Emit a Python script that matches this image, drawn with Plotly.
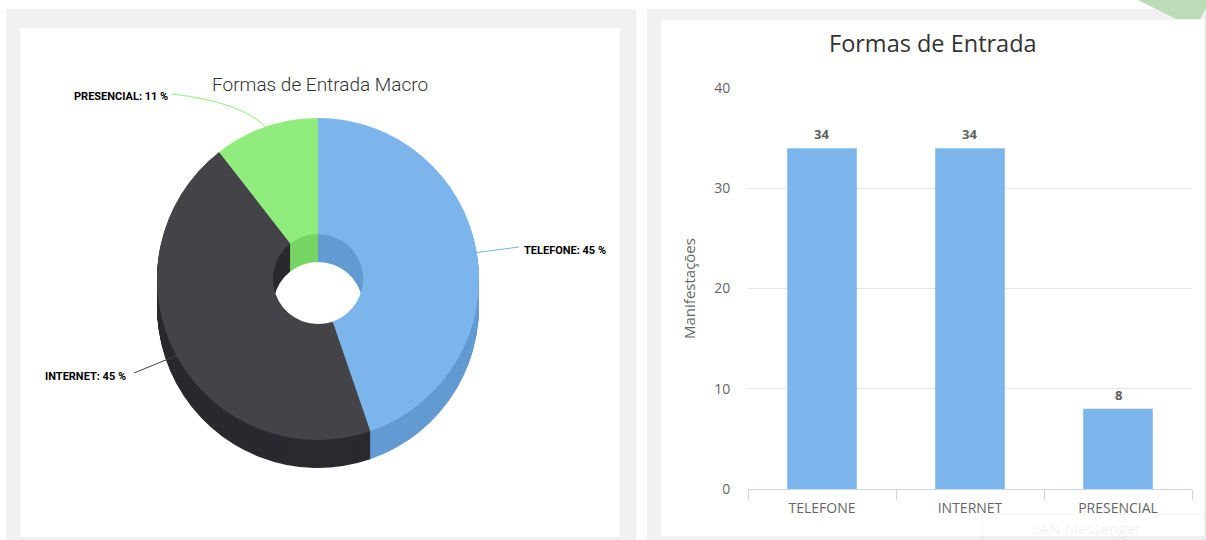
import math
import plotly.graph_objects as go

# ---------------- data ----------------
categories = ["TELEFONE", "INTERNET", "PRESENCIAL"]
values = [34, 34, 8]
pie_colors = ["#7cb5ec", "#434348", "#90ed7d"]
side_colors = ["#629bd2", "#2a2a2f", "#77d464"]
bar_color = "#7cb5ec"
pie_title = "Formas de Entrada Macro"
bar_title = "Formas de Entrada"
y_title = "Manifestações"
y_ticks = [0, 10, 20, 30, 40]

W, H = 1206, 540


def px(x):
    return x / W


def py(y):
    return 1 - y / H


fig = go.Figure()

# ---------------- 3D-like donut (stacked pies) ----------------
cx, cy, r, depth = 318, 279, 161, 28
hole = 0.28
for k in range(depth, -1, -1):
    cols = pie_colors if k == 0 else side_colors
    c = cy + k
    fig.add_trace(go.Pie(
        values=values, labels=categories, sort=False, direction="clockwise",
        rotation=0, hole=hole, textinfo="none",
        hoverinfo="skip" if k else "label+percent",
        marker=dict(colors=cols, line=dict(width=0)), showlegend=False,
        domain=dict(x=[px(cx - r), px(cx + r)], y=[py(c + r), py(c - r)]),
    ))

# labels with connectors, anchors computed from slice mid-angles
total = sum(values)
label_pos = [(522, 250, "left"), (128, 376, "right"), (170, 96, "right")]
label_end = [(519, 247), (134, 373), (172, 94)]
cum = 0
shapes = []
annotations = []
cond = "Roboto, Liberation Sans, sans-serif"
lab_font = dict(family=cond, size=11, color="#000000", weight="bold")
for i, (cat, v) in enumerate(zip(categories, values)):
    mid = (cum + v / 2) / total * 2 * math.pi
    cum += v
    ax_ = cx + r * math.sin(mid)
    ay_ = cy - r * math.cos(mid)
    ex, ey = label_end[i]
    if i == 2:
        path = (f"M {px(ex)},{py(ey)} Q {px(ax_ - 25)},{py(ey + 8)} "
                f"{px(ax_)},{py(ay_)}")
    else:
        path = f"M {px(ax_)},{py(ay_)} L {px(ex)},{py(ey)}"
    shapes.append(dict(type="path", xref="paper", yref="paper", path=path,
                       line=dict(color=pie_colors[i], width=1)))
    lx, ly, anc = label_pos[i]
    annotations.append(dict(
        x=px(lx), y=py(ly), xref="paper", yref="paper", showarrow=False,
        xanchor=anc, yanchor="middle",
        text=f"{cat}: {round(100 * v / total)} %", font=lab_font))

annotations.append(dict(
    x=px(320), y=py(84), xref="paper", yref="paper", showarrow=False,
    xanchor="center", yanchor="middle", text=pie_title,
    font=dict(family=cond, size=19, color="#333333", weight=300)))

# ---------------- bar chart ----------------
fig.add_trace(go.Bar(
    x=categories, y=values, marker=dict(color=bar_color, line=dict(width=0)),
    showlegend=False, hoverinfo="x+y", xaxis="x", yaxis="y",
))
for cat, v in zip(categories, values):
    annotations.append(dict(
        x=cat, y=v, xref="x", yref="y", showarrow=False, yshift=14,
        xanchor="center", yanchor="middle", text=f"<b>{v}</b>",
        font=dict(family="Open Sans", size=13, color="#606060")))

annotations.append(dict(
    x=px(933), y=py(43), xref="paper", yref="paper", showarrow=False,
    xanchor="center", yanchor="middle", text=bar_title,
    font=dict(family="Open Sans", size=23.5, color="#333333")))

# faint notification overlay
annotations.append(dict(
    x=px(1030), y=py(528), xref="paper", yref="paper", showarrow=False,
    xanchor="left", yanchor="middle", text="LAN Messenger",
    font=dict(family="Open Sans", size=15, color="rgba(0,0,0,0.07)")))

# ---------------- background panels ----------------
bg = [
    dict(type="rect", x0=px(6), x1=px(636), y0=py(540), y1=py(9), fillcolor="#f1f1f1"),
    dict(type="rect", x0=px(647), x1=px(1206), y0=py(540), y1=py(9), fillcolor="#f1f1f1"),
    dict(type="rect", x0=px(20), x1=px(620), y0=py(537), y1=py(28), fillcolor="#ffffff"),
    dict(type="rect", x0=px(661), x1=px(1204), y0=py(536), y1=py(20), fillcolor="#ffffff"),
    dict(type="path",
         path=(f"M {px(1138)},{py(0)} L {px(1206)},{py(0)} L {px(1206)},{py(8)} "
               f"L {px(1200)},{py(19)} L {px(1176)},{py(19)} Z"),
         fillcolor="#bcdcb8"),
    dict(type="rect", x0=px(982), x1=px(1206), y0=py(540), y1=py(514),
         fillcolor="rgba(0,0,0,0)", line=dict(color="rgba(0,0,0,0.05)", width=1)),
]
for s in bg:
    s.update(xref="paper", yref="paper", layer="below")
    s.setdefault("line", dict(width=0))

tick_font = dict(family="Open Sans", size=14, color="#666666")
fig.update_layout(
    width=W, height=H, autosize=False,
    margin=dict(l=0, r=0, t=0, b=0, pad=0),
    paper_bgcolor="#ffffff", plot_bgcolor="rgba(0,0,0,0)",
    shapes=bg + shapes, annotations=annotations,
    bargap=0.53,
    xaxis=dict(domain=[px(748), px(1192)], showline=True, linecolor="#ccd6eb",
               linewidth=1, ticks="outside", tickson="boundaries", ticklen=10,
               tickcolor="#ccd6eb", showgrid=False, fixedrange=True,
               automargin=False, tickfont=tick_font, ticklabelstandoff=6),
    yaxis=dict(domain=[py(489), py(88)], range=[0, 40], tickvals=y_ticks,
               showgrid=True, gridcolor="#e6e6e6", zeroline=False, showline=False,
               ticks="outside", ticklen=14, tickcolor="rgba(0,0,0,0)",
               fixedrange=True, automargin=False, tickfont=tick_font,
               title=dict(text=y_title, standoff=14,
                          font=dict(family="Open Sans", size=15, color="#666666"))),
    font=dict(family="Open Sans"),
)

fig.write_html(
    "out.html",
    post_script="document.body.style.margin='0';document.body.style.overflow='hidden';",
)
